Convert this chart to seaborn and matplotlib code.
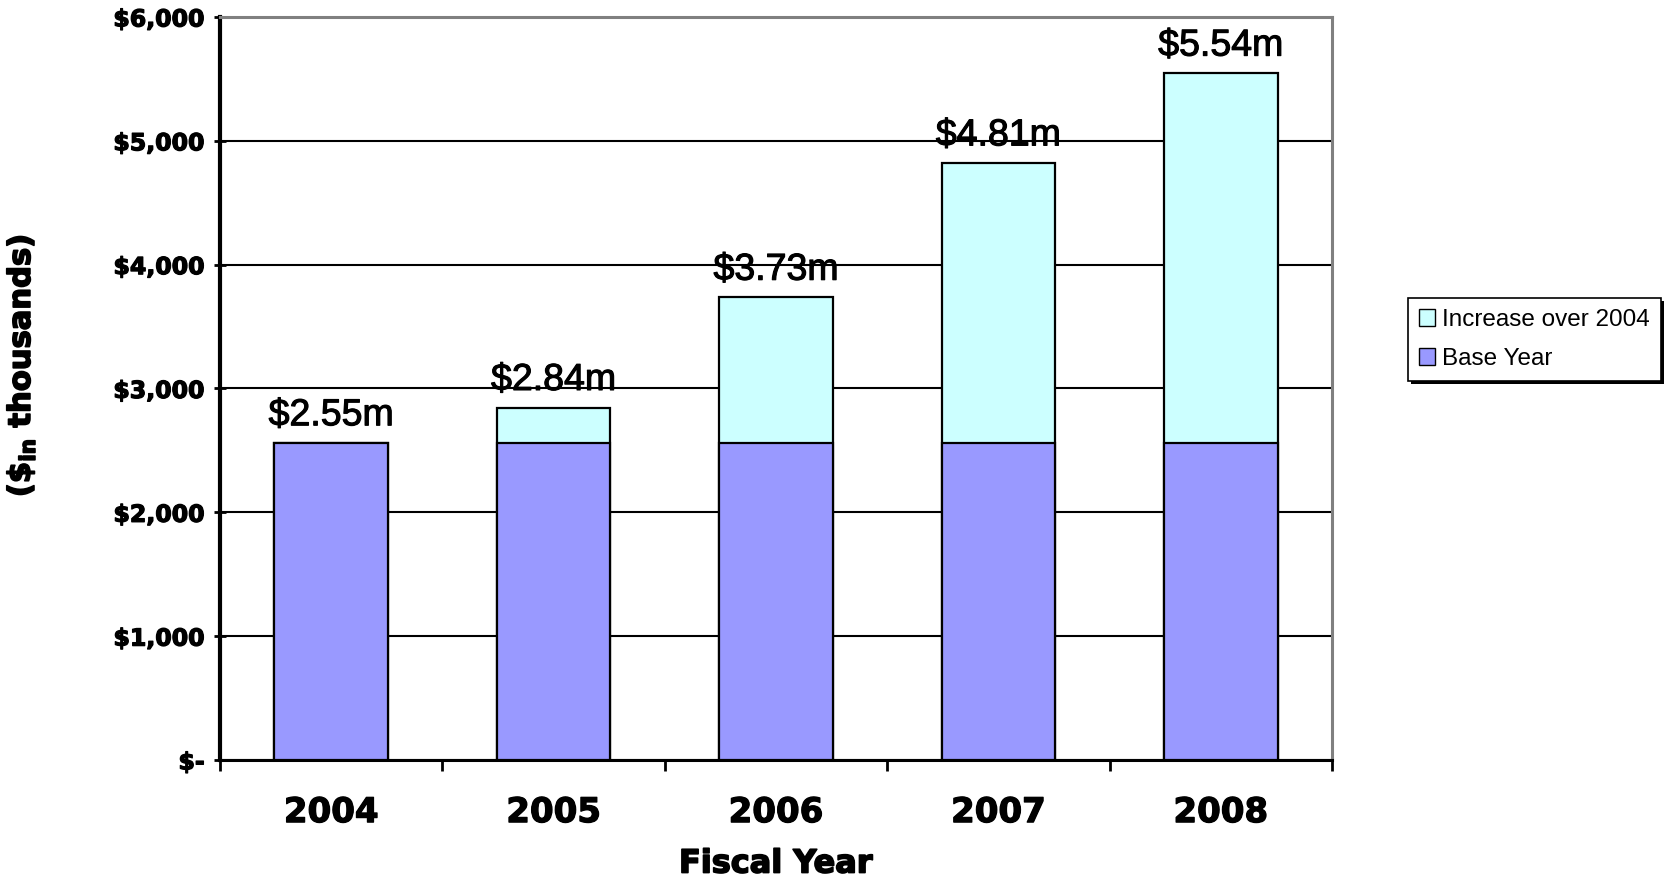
import matplotlib
matplotlib.use("Agg")
import matplotlib.pyplot as plt
import matplotlib.patheffects as pe
import seaborn as sns
import pandas as pd
import numpy as np
from matplotlib.patches import Rectangle

years = ["2004", "2005", "2006", "2007", "2008"]
base_year = [2560, 2560, 2560, 2560, 2560]
totals = [2560, 2845, 3735, 4820, 5545]
total_labels = ["$2.55m", "$2.84m", "$3.73m", "$4.81m", "$5.54m"]
y_tick_values = [0, 1000, 2000, 3000, 4000, 5000, 6000]
y_tick_labels = ["$-", "$1,000", "$2,000", "$3,000", "$4,000", "$5,000", "$6,000"]

sns.set_theme(style="white")
plt.rcParams["font.family"] = ["DejaVu Sans"]
plt.rcParams["text.color"] = "black"
plt.rcParams["xtick.color"] = "black"
plt.rcParams["ytick.color"] = "black"
plt.rcParams["axes.labelcolor"] = "black"

df = pd.DataFrame({"year": years, "base": base_year, "total": totals})

fig = plt.figure(figsize=(16.66, 8.8), dpi=100)
ax = fig.add_axes([220/1666, 1-760/880, (1332-220)/1666, (760-17)/880])

bw = 0.51
sns.barplot(data=df, x="year", y="total", color="#CCFFFF", edgecolor="black",
            linewidth=1.6, width=bw, ax=ax, saturation=1, zorder=3,
            label="Increase over 2004")
sns.barplot(data=df, x="year", y="base", color="#9999FF", edgecolor="black",
            linewidth=1.6, width=bw, ax=ax, saturation=1, zorder=3,
            label="Base Year")
handles, labels = ax.get_legend_handles_labels()
if ax.get_legend() is not None:
    ax.get_legend().remove()

bold_fx = [pe.withStroke(linewidth=0.9, foreground="black")]

ax.set_ylim(0, 6000)
ax.set_xlim(-0.5, len(years) - 0.5)
ax.set_yticks(y_tick_values)
ax.set_yticklabels(y_tick_labels, fontsize=17, fontweight="bold")
for t in ax.get_yticklabels():
    t.set_path_effects(bold_fx)
ax.yaxis.grid(True, color="black", linewidth=1.5, zorder=0)
ax.set_axisbelow(True)

ax.set_xticks(np.arange(len(years)))
ax.set_xticklabels(years, fontsize=24.5, fontweight="bold")
for t in ax.get_xticklabels():
    t.set_path_effects(bold_fx)
ax.tick_params(axis="x", which="major", length=0, pad=26)
ax.set_xticks(np.arange(len(years) + 1) - 0.5, minor=True)
ax.tick_params(axis="x", which="minor", length=8, width=2, direction="out", color="black", bottom=True)
ax.tick_params(axis="y", length=8, width=2, direction="inout", color="black", left=True, pad=7)

for s in ["left", "bottom"]:
    ax.spines[s].set_color("black")
ax.spines["left"].set_linewidth(3)
ax.spines["bottom"].set_linewidth(2.2)
for s in ["top", "right"]:
    ax.spines[s].set_color("#808080")
    ax.spines[s].set_linewidth(2.2)

xl = ax.set_xlabel("Fiscal Year", fontsize=23, fontweight="bold", labelpad=14)
xl.set_path_effects([pe.withStroke(linewidth=1.2, foreground="black")])
ax.set_ylabel("")
yl = fig.text(21/1666, 1-366/880, "(\\$$_{\\mathbf{in}}$ thousands)", rotation=90,
              fontsize=22, fontweight="bold", ha="center", va="center")
yl.set_path_effects([pe.withStroke(linewidth=1.2, foreground="black")])

for i, (t, lab) in enumerate(zip(totals, total_labels)):
    ax.annotate(lab, xy=(i, t), xytext=(0, 7), textcoords="offset points",
                ha="center", va="bottom", fontsize=27, family="Liberation Sans",
                color="black", zorder=5,
                path_effects=[pe.withStroke(linewidth=0.8, foreground="black")])

leg = fig.legend(handles, labels, loc="upper left", bbox_to_anchor=(1408/1666, 1-298/880),
                 borderaxespad=0, frameon=True, fancybox=False, shadow=False,
                 prop={"family": "Liberation Sans", "size": 17.5},
                 handlelength=0.65, handleheight=0.65, handletextpad=0.3,
                 borderpad=0.45, labelspacing=0.7, edgecolor="black",
                 facecolor="white", framealpha=1)
leg.get_frame().set_linewidth(1.2)
for txt in leg.get_texts():
    txt.set_color("black")
for h in leg.legend_handles:
    h.set_edgecolor("black")
    h.set_linewidth(1)
fig.canvas.draw()
bb = leg.get_window_extent().transformed(fig.transFigure.inverted())
fig.patches.append(Rectangle((bb.x0 + 3/1666, bb.y0 - 3/880), bb.width, bb.height,
                             transform=fig.transFigure, facecolor="black",
                             edgecolor="none", zorder=leg.get_zorder() - 1))

fig.savefig("out.png", dpi=100)
